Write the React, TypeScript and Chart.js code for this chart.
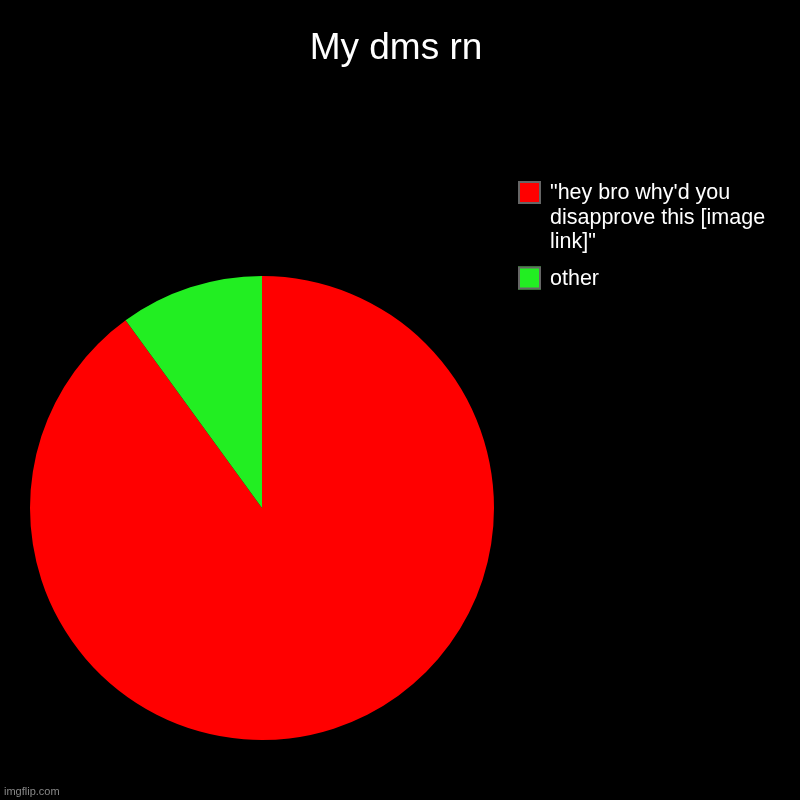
import React, { useEffect, useRef } from "react";
import { Chart, registerables, Plugin } from "chart.js";

Chart.register(...registerables);

const chartTitle = "My dms rn";
const sliceLabels = ["\"hey bro why'd you disapprove this [image link]\"", "other"];
const sliceValues = [90, 10];
const sliceColors = ["#ff0000", "#22ee22"];
const watermark = "imgflip.com";

const FONT = "Arial, 'Liberation Sans', Helvetica, sans-serif";

function wrapText(ctx: CanvasRenderingContext2D, text: string, maxWidth: number) {
  const words = text.split(" ");
  const lines: string[] = [];
  let line = "";
  for (const w of words) {
    const test = line ? line + " " + w : w;
    if (ctx.measureText(test).width > maxWidth && line) {
      lines.push(line);
      line = w;
    } else {
      line = test;
    }
  }
  if (line) lines.push(line);
  return lines;
}

// title, wrapped legend and watermark drawn straight on the canvas
const decorPlugin: Plugin<"pie"> = {
  id: "decor",
  beforeDraw(chart) {
    const ctx = chart.ctx;
    ctx.save();
    ctx.fillStyle = "#000";
    ctx.fillRect(0, 0, chart.width, chart.height);
    ctx.restore();
  },
  afterDraw(chart) {
    const ctx = chart.ctx;
    ctx.save();

    ctx.fillStyle = "#fff";
    ctx.font = `37px ${FONT}`;
    ctx.textAlign = "center";
    ctx.textBaseline = "alphabetic";
    ctx.fillText(chartTitle, 396, 59);

    ctx.textAlign = "left";
    ctx.font = `21.5px ${FONT}`;
    const labels = (chart.data.labels || []) as string[];
    const colors = chart.data.datasets[0].backgroundColor as string[];
    const lineHeight = 24.5;
    let y = 181;
    labels.forEach((label, i) => {
      ctx.fillStyle = colors[i];
      ctx.fillRect(518, y, 23, 23);
      ctx.strokeStyle = "#666";
      ctx.lineWidth = 2;
      ctx.strokeRect(519, y + 1, 21, 21);
      const lines = wrapText(ctx, label, 240);
      ctx.fillStyle = "#fff";
      lines.forEach((ln, j) => {
        ctx.fillText(ln, 550, y + 18 + j * lineHeight);
      });
      y += lines.length * lineHeight + 12;
    });

    ctx.fillStyle = "#888";
    ctx.font = `11px ${FONT}`;
    ctx.fillText(watermark, 4, 795);
    ctx.restore();
  },
};

export default function App() {
  const canvasRef = useRef<HTMLCanvasElement>(null);

  useEffect(() => {
    if (!canvasRef.current) return;
    const chart = new Chart(canvasRef.current, {
      type: "pie",
      data: {
        labels: sliceLabels,
        datasets: [
          {
            data: sliceValues,
            backgroundColor: sliceColors,
            borderWidth: 0,
          },
        ],
      },
      options: {
        animation: false,
        responsive: false,
        devicePixelRatio: 1,
        layout: { padding: { left: 30, right: 306, top: 276, bottom: 60 } },
        plugins: {
          legend: { display: false },
          title: { display: false },
          tooltip: { enabled: false },
        },
      },
      plugins: [decorPlugin],
    });
    return () => chart.destroy();
  }, []);

  return (
    <div style={{ position: "fixed", left: 0, top: 0, width: 800, height: 800, background: "#000" }}>
      <canvas ref={canvasRef} width={800} height={800} />
    </div>
  );
}
